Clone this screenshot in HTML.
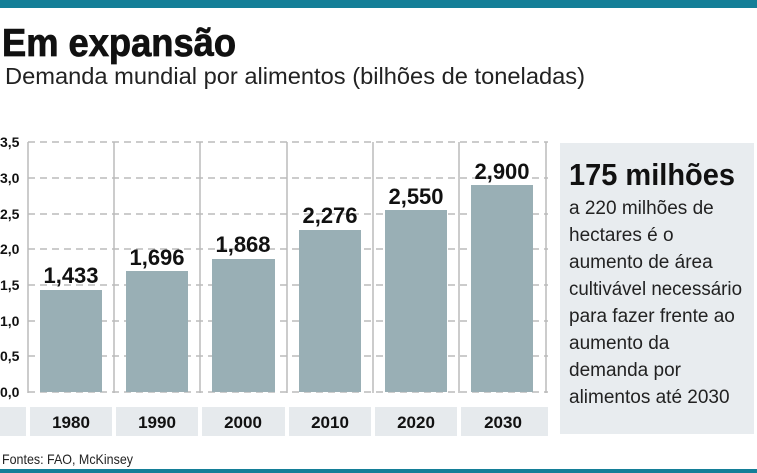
<!DOCTYPE html>
<html><head><meta charset="utf-8"><style>
html,body{margin:0;padding:0;background:#fff;}
svg{display:block;font-family:"Liberation Sans Narrow","Liberation Sans",sans-serif;}
</style></head><body>
<svg width="757" height="473" viewBox="0 0 757 473">
<rect x="0" y="0" width="757" height="8" fill="#147f98"/>
<text x="2" y="56" font-size="39" font-weight="900" fill="#111" stroke="#111" stroke-width="0.8" textLength="234" lengthAdjust="spacingAndGlyphs">Em expansão</text>
<text x="5" y="84" font-size="23" fill="#222" textLength="580" lengthAdjust="spacingAndGlyphs">Demanda mundial por alimentos (bilhões de toneladas)</text>
<g stroke="#bbb" stroke-width="1.5" stroke-dasharray="7,5">
<line x1="28" y1="142" x2="548" y2="142"/>
<line x1="28" y1="178" x2="548" y2="178"/>
<line x1="28" y1="214" x2="548" y2="214"/>
<line x1="28" y1="249" x2="548" y2="249"/>
<line x1="28" y1="285" x2="548" y2="285"/>
<line x1="28" y1="321" x2="548" y2="321"/>
<line x1="28" y1="356" x2="548" y2="356"/>
<line x1="28" y1="392" x2="548" y2="392"/>
</g>
<g stroke="#bbb" stroke-width="1.5">
<line x1="28" y1="142" x2="28" y2="393"/>
<line x1="114" y1="142" x2="114" y2="393"/>
<line x1="200" y1="142" x2="200" y2="393"/>
<line x1="287" y1="142" x2="287" y2="393"/>
<line x1="373" y1="142" x2="373" y2="393"/>
<line x1="459" y1="142" x2="459" y2="393"/>
<line x1="546" y1="142" x2="546" y2="393"/>
</g>
<g font-size="14" font-weight="bold" fill="#111">
<text x="0" y="147">3,5</text><text x="0" y="183">3,0</text><text x="0" y="219">2,5</text><text x="0" y="254">2,0</text>
<text x="0" y="290">1,5</text><text x="0" y="326">1,0</text><text x="0" y="361">0,5</text><text x="0" y="397">0,0</text>
</g>
<g fill="#99afb5">
<rect x="40" y="290" width="62" height="102"/>
<rect x="126" y="271" width="62" height="121"/>
<rect x="212" y="259" width="63" height="133"/>
<rect x="299" y="230" width="62" height="162"/>
<rect x="385" y="210" width="62" height="182"/>
<rect x="471" y="185" width="62" height="207"/>
</g>
<g font-size="22" font-weight="bold" fill="#111" text-anchor="middle" font-family="Liberation Sans, sans-serif">
<text x="71" y="283">1,433</text><text x="157" y="265">1,696</text><text x="243" y="252">1,868</text>
<text x="330" y="223">2,276</text><text x="416" y="204">2,550</text><text x="502" y="179">2,900</text>
</g>
<g fill="#e6eaed">
<rect x="0" y="407" width="26" height="29"/>
<rect x="30" y="407" width="82" height="29"/>
<rect x="116" y="407" width="82" height="29"/>
<rect x="202" y="407" width="83" height="29"/>
<rect x="289" y="407" width="82" height="29"/>
<rect x="375" y="407" width="82" height="29"/>
<rect x="461" y="407" width="87" height="29"/>
</g>
<g font-size="17" font-weight="bold" fill="#111" text-anchor="middle" font-family="Liberation Sans, sans-serif">
<text x="71" y="428">1980</text><text x="157" y="428">1990</text><text x="243" y="428">2000</text>
<text x="330" y="428">2010</text><text x="416" y="428">2020</text><text x="503" y="428">2030</text>
</g>
<rect x="560" y="143" width="194" height="291" fill="#e8ecef"/>
<text x="569" y="185" font-size="31" font-weight="bold" fill="#111" textLength="166" lengthAdjust="spacingAndGlyphs">175 milhões</text>
<g font-size="19" fill="#222">
<text x="569" y="214">a 220 milhões de</text>
<text x="569" y="241">hectares é o</text>
<text x="569" y="268">aumento de área</text>
<text x="569" y="295" textLength="173" lengthAdjust="spacingAndGlyphs">cultivável necessário</text>
<text x="569" y="322">para fazer frente ao</text>
<text x="569" y="349">aumento da</text>
<text x="569" y="376">demanda por</text>
<text x="569" y="403">alimentos até 2030</text>
</g>
<text x="2" y="464" font-size="14" fill="#222" textLength="131" lengthAdjust="spacingAndGlyphs">Fontes: FAO, McKinsey</text>
<rect x="0" y="469" width="757" height="4" fill="#147f98"/>
</svg>
</body></html>
